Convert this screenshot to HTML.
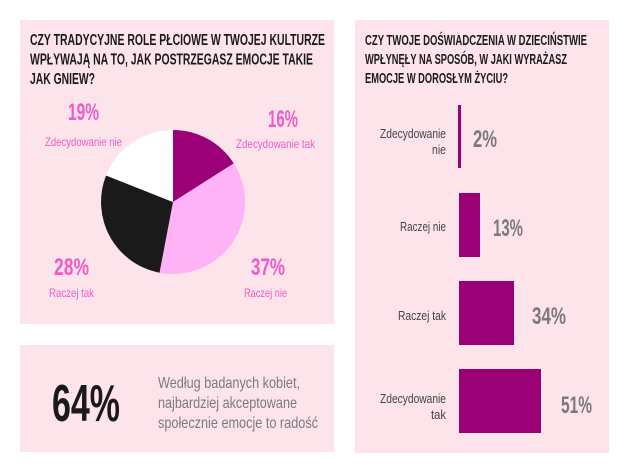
<!DOCTYPE html>
<html><head><meta charset="utf-8"><style>
html,body{margin:0;padding:0;background:#fff}
svg{display:block}
text{font-family:"Liberation Sans",sans-serif}
.t{font-weight:bold;fill:#1a1a1a}
.p{font-weight:bold;fill:#f05bc8}
.pl{fill:#f05bc8}
.g{font-weight:bold;fill:#7a7a7a}
.l{fill:#444}
</style></head><body>
<svg width="630" height="473" viewBox="0 0 630 473" xmlns="http://www.w3.org/2000/svg">
<rect width="630" height="473" fill="#fff"/>
<rect x="20" y="20" width="314" height="304" fill="#fde4ea"/>
<rect x="20" y="345" width="314" height="107" fill="#fde4ea"/>
<rect x="355" y="20" width="254" height="433" fill="#fde4ea"/>

<text class="t" x="30" y="45" font-size="16" textLength="295" lengthAdjust="spacingAndGlyphs">CZY TRADYCYJNE ROLE PŁCIOWE W TWOJEJ KULTURZE</text>
<text class="t" x="30" y="64.5" font-size="16" textLength="283" lengthAdjust="spacingAndGlyphs">WPŁYWAJĄ NA TO, JAK POSTRZEGASZ EMOCJE TAKIE</text>
<text class="t" x="30" y="84" font-size="16" textLength="65" lengthAdjust="spacingAndGlyphs">JAK GNIEW?</text>

<path d="M173,202 L173,130 A72,72 0 0 1 233.8,163.4 Z" fill="#9b0076"/>
<path d="M173,202 L233.8,163.4 A72,72 0 0 1 159.5,272.7 Z" fill="#ffb3f7"/>
<path d="M173,202 L159.5,272.7 A72,72 0 0 1 106.1,175.5 Z" fill="#1a1a1a"/>
<path d="M173,202 L106.1,175.5 A72,72 0 0 1 173,130 Z" fill="#fff"/>

<text class="p" x="68" y="120" font-size="24" textLength="31" lengthAdjust="spacingAndGlyphs">19%</text>
<text class="pl" x="45" y="146" font-size="12" textLength="77" lengthAdjust="spacingAndGlyphs">Zdecydowanie nie</text>
<text class="p" x="268" y="127" font-size="24" textLength="30" lengthAdjust="spacingAndGlyphs">16%</text>
<text class="pl" x="236" y="148" font-size="12" textLength="79" lengthAdjust="spacingAndGlyphs">Zdecydowanie tak</text>
<text class="p" x="54" y="275" font-size="24" textLength="35" lengthAdjust="spacingAndGlyphs">28%</text>
<text class="pl" x="49" y="297" font-size="12" textLength="45" lengthAdjust="spacingAndGlyphs">Raczej tak</text>
<text class="p" x="251" y="275" font-size="24" textLength="34" lengthAdjust="spacingAndGlyphs">37%</text>
<text class="pl" x="244" y="297" font-size="12" textLength="43" lengthAdjust="spacingAndGlyphs">Raczej nie</text>

<text class="t" x="52" y="421" font-size="52" textLength="68" lengthAdjust="spacingAndGlyphs">64%</text>
<text fill="#7a7a7a" x="158" y="388" font-size="16" textLength="142" lengthAdjust="spacingAndGlyphs">Według badanych kobiet,</text>
<text fill="#7a7a7a" x="158" y="408" font-size="16" textLength="139" lengthAdjust="spacingAndGlyphs">najbardziej akceptowane</text>
<text fill="#7a7a7a" x="158" y="428" font-size="16" textLength="160" lengthAdjust="spacingAndGlyphs">społecznie emocje to radość</text>

<text class="t" x="365" y="45" font-size="14.5" textLength="222" lengthAdjust="spacingAndGlyphs">CZY TWOJE DOŚWIADCZENIA W DZIECIŃSTWIE</text>
<text class="t" x="365" y="64" font-size="14.5" textLength="202" lengthAdjust="spacingAndGlyphs">WPŁYNĘŁY NA SPOSÓB, W JAKI WYRAŻASZ</text>
<text class="t" x="365" y="83" font-size="14.5" textLength="143" lengthAdjust="spacingAndGlyphs">EMOCJE W DOROSŁYM ŻYCIU?</text>

<rect x="458" y="105" width="3" height="63" fill="#9b0076"/>
<rect x="459" y="193" width="21" height="64" fill="#9b0076"/>
<rect x="459" y="281" width="55" height="64" fill="#9b0076"/>
<rect x="459" y="369" width="82" height="64" fill="#9b0076"/>

<g text-anchor="end" font-size="13" class="l">
<text x="446" y="138" textLength="66" lengthAdjust="spacingAndGlyphs">Zdecydowanie</text>
<text x="446" y="154" textLength="14" lengthAdjust="spacingAndGlyphs">nie</text>
<text x="446" y="231" textLength="46" lengthAdjust="spacingAndGlyphs">Raczej nie</text>
<text x="446" y="320" textLength="48" lengthAdjust="spacingAndGlyphs">Raczej tak</text>
<text x="446" y="403" textLength="66" lengthAdjust="spacingAndGlyphs">Zdecydowanie</text>
<text x="446" y="419" textLength="15" lengthAdjust="spacingAndGlyphs">tak</text>
</g>
<text class="g" x="473" y="147" font-size="24" textLength="24" lengthAdjust="spacingAndGlyphs">2%</text>
<text class="g" x="493" y="236" font-size="24" textLength="30" lengthAdjust="spacingAndGlyphs">13%</text>
<text class="g" x="532" y="324" font-size="24" textLength="34" lengthAdjust="spacingAndGlyphs">34%</text>
<text class="g" x="561" y="413" font-size="24" textLength="31" lengthAdjust="spacingAndGlyphs">51%</text>
</svg>
</body></html>
